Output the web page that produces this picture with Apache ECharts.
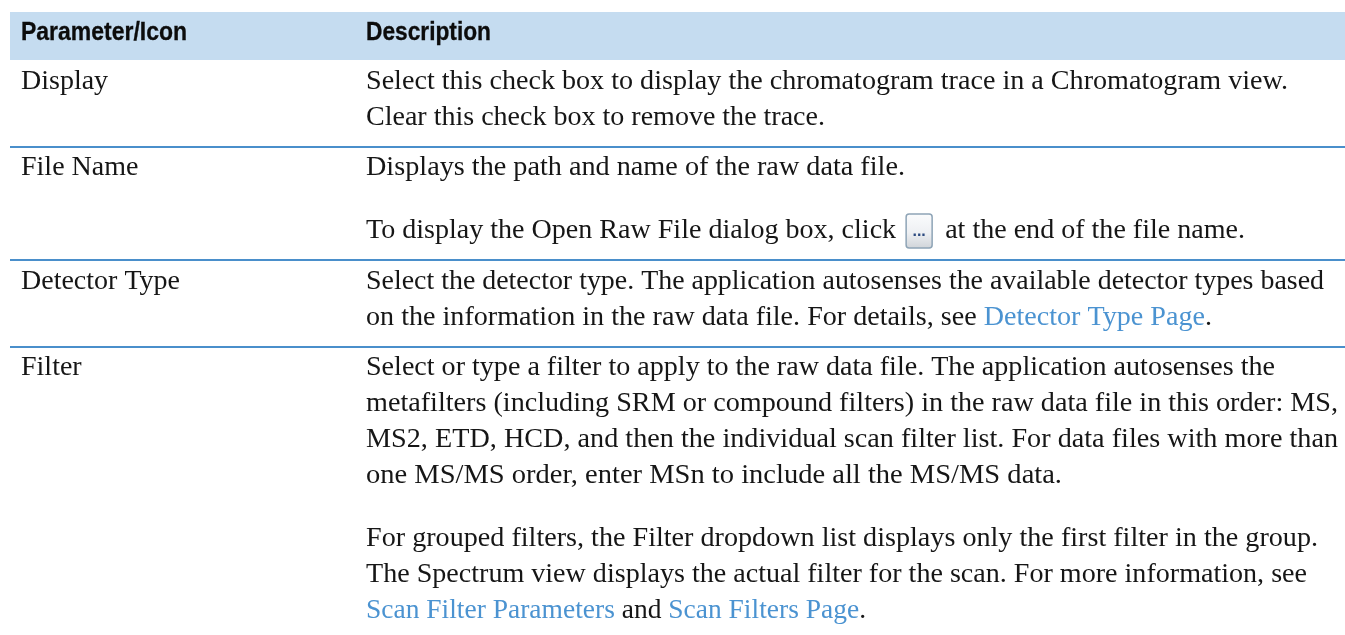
<!DOCTYPE html>
<html><head><meta charset="utf-8">
<style>html,body{margin:0;padding:0;background:#fff}#c{width:1345px;height:635px}</style>
<script src="https://cdn.jsdelivr.net/npm/echarts@6/dist/echarts.min.js"></script>
</head><body><div id="c"></div>
<script>
const headers = ["Parameter/Icon", "Description"];
const parameters = ["Display", "File Name", "Detector Type", "Filter"];
const descriptions = [
 [["Select this check box to display the chromatogram trace in a Chromatogram view."],
  ["Clear this check box to remove the trace."]],
 [["Displays the path and name of the raw data file."],
  [],
  ["To display the Open Raw File dialog box, click", {icon:"..."}, "at the end of the file name."]],
 [["Select the detector type. The application autosenses the available detector types based"],
  ["on the information in the raw data file. For details, see ", {href:"Detector Type Page"}, "."]],
 [["Select or type a filter to apply to the raw data file. The application autosenses the"],
  ["metafilters (including SRM or compound filters) in the raw data file in this order: MS,"],
  ["MS2, ETD, HCD, and then the individual scan filter list. For data files with more than"],
  ["one MS/MS order, enter MSn to include all the MS/MS data."],
  [],
  ["For grouped filters, the Filter dropdown list displays only the first filter in the group."],
  ["The Spectrum view displays the actual filter for the scan. For more information, see"],
  [{href:"Scan Filter Parameters"}, " and ", {href:"Scan Filters Page"}, "."]]
];
const lineEnds = [[1288,825],[905,null,1245],[1324,1212],[1275,1338,1338,1062,null,1318,1307,866]];
const rowFirstBaseline = [91.5, 177, 291, 377];
const ruleY = [147, 260, 347];
const headerEnds = [187, 491];
const lineH = 36, paraH = 27, iconGap = 49;
const BODY='"Liberation Serif"', X1=21, X2=366, FS=28, BASE_OFF=9.5;
const INK='#161616', LINK='#4b93d1', RULE='#4a8fcb';
const chart = echarts.init(document.getElementById('c'));
const g = [];
const ctx = document.createElement('canvas').getContext('2d');
const widthOf=(s,font)=>{ctx.font=font;return ctx.measureText(s).width;};
g.push({type:'rect',shape:{x:10,y:12,width:1335,height:48},style:{fill:'#c5dcf0'}});
const hf='bold 25px "Liberation Sans"';
headers.forEach((h,i)=>{
  const x=i?X2:X1;
  g.push({type:'text',x:x,y:33.5,scaleX:(headerEnds[i]-x)/widthOf(h,hf),
    style:{text:h,font:hf,fill:'#0c0c0c',stroke:'#0c0c0c',lineWidth:0.3,verticalAlign:'middle'}});
});
ruleY.forEach(y=>g.push({type:'line',shape:{x1:10,y1:y,x2:1345,y2:y},style:{stroke:RULE,lineWidth:2}}));
const bf=FS+'px '+BODY;
function txt(x,base,s,fill,sx){g.push({type:'text',x:x,y:base-BASE_OFF,scaleX:sx,style:{text:s,font:bf,fill:fill,verticalAlign:'middle'}});}
parameters.forEach((p,i)=>{
  txt(X1,rowFirstBaseline[i],p,INK,1);
  let b=rowFirstBaseline[i];
  descriptions[i].forEach((line,j)=>{
    const base=b; b+=line.length?lineH:paraH;
    if(!line.length) return;
    const label=q=>typeof q==='string'?q:(q.href||'');
    const natural=line.reduce((a,q)=>a+(q.icon?0:widthOf(label(q),bf)),0);
    const icons=line.filter(q=>q.icon).length;
    const sx=(lineEnds[i][j]-X2-icons*iconGap)/natural;
    let x=X2;
    line.forEach(part=>{
      if(part.icon){
        g.push({type:'rect',shape:{x:x+10,y:base-26,width:26,height:34,r:3},
          style:{fill:new echarts.graphic.LinearGradient(0,0,0,1,[{offset:0,color:'#fbfcfd'},{offset:0.55,color:'#eef0f3'},{offset:1,color:'#cfd3d8'}]),stroke:'#8ea4b6',lineWidth:1.5}});
        g.push({type:'text',x:x+23,y:base-8,style:{text:part.icon,font:'bold 16px "Liberation Sans"',fill:'#2c4a80',align:'center',verticalAlign:'middle'}});
        x+=iconGap;
      } else {
        const s=label(part);
        txt(x,base,s,typeof part==='string'?INK:LINK,sx);
        x+=widthOf(s,bf)*sx;
      }
    });
  });
});
chart.setOption({animation:false,graphic:{elements:g}});
</script></body></html>
